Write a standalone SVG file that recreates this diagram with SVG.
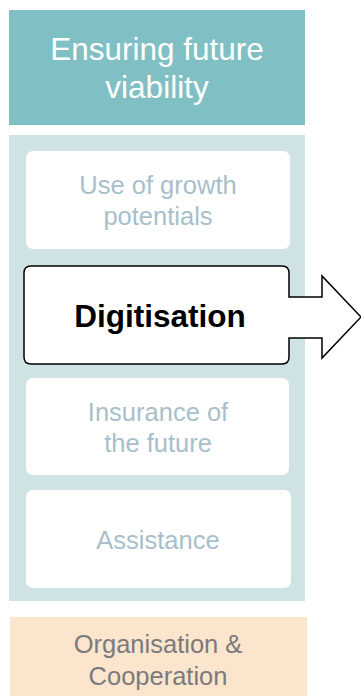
<svg xmlns="http://www.w3.org/2000/svg" width="361" height="696" viewBox="0 0 361 696">
<style>
text{font-family:"Liberation Sans",Arial,sans-serif;text-anchor:middle}
.hdr{fill:#fff;font-size:31.5px}
.pale{fill:#a8bfca;font-size:25.5px}
.card{fill:#fff}
.org{fill:#7b7b7b;font-size:25.5px}
</style>
<rect x="0" y="0" width="361" height="696" fill="#fff"/>
<g id="header">
<rect x="9" y="10" width="296" height="115" fill="#80bfc3"/>
<text class="hdr" x="157" y="60">Ensuring future</text>
<text class="hdr" x="157" y="98">viability</text>
</g>
<g id="panel">
<rect x="9" y="135" width="296" height="466" fill="#cfe3e5"/>
</g>
<g id="growth">
<rect class="card" x="26" y="151" width="264" height="98" rx="7"/>
<text class="pale" x="158" y="194">Use of growth</text>
<text class="pale" x="158" y="225">potentials</text>
</g>
<g id="digitisation">
<path d="M31,266 H282 Q289,266 289,273 V297 H322 V276 L361,317 L322,358 V338 H289 V357 Q289,364 282,364 H31 Q24,364 24,357 V273 Q24,266 31,266 Z" fill="#fff" stroke="#000" stroke-width="1.5"/>
<text x="160" y="327" style="font-size:31.5px;font-weight:bold;fill:#000">Digitisation</text>
</g>
<g id="insurance">
<rect class="card" x="26" y="378" width="263" height="97" rx="7"/>
<text class="pale" x="158" y="421">Insurance of</text>
<text class="pale" x="158" y="452">the future</text>
</g>
<g id="assistance">
<rect class="card" x="26" y="490" width="265" height="98" rx="7"/>
<text class="pale" x="158" y="549">Assistance</text>
</g>
<g id="organisation">
<rect x="10" y="617" width="297" height="79" fill="#fbe5cc"/>
<text class="org" x="158" y="653">Organisation &amp;</text>
<text class="org" x="158" y="685">Cooperation</text>
</g>
<g id="connectors"></g>
</svg>
